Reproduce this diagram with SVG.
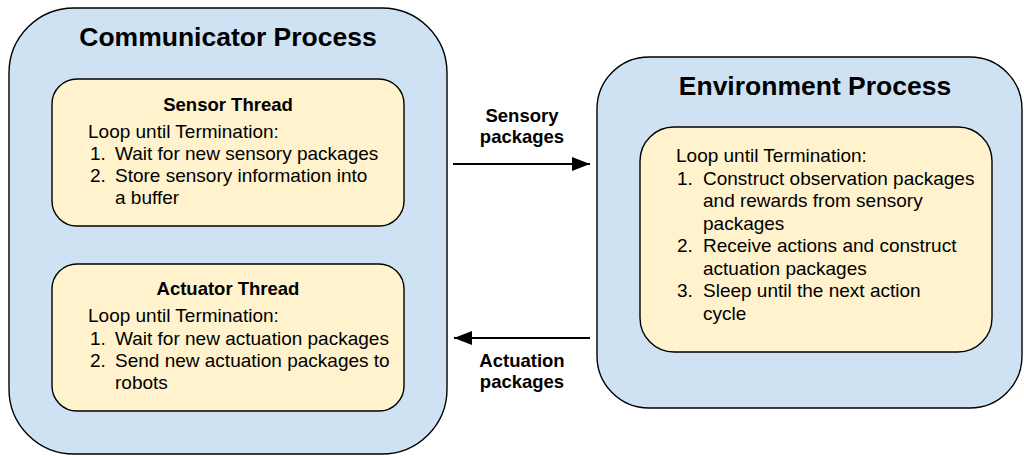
<svg xmlns="http://www.w3.org/2000/svg" width="1024" height="456" viewBox="0 0 1024 456">
  <style>
    .process { fill: #cfe2f3; stroke: #000; stroke-width: 1.4; }
    .thread { fill: #fff2cc; stroke: #000; stroke-width: 1.4; }
    .title { font-family: "Liberation Sans", Arial, sans-serif; font-weight: bold; font-size: 26.5px; fill: #000; text-anchor: middle; }
    .head { font-family: "Liberation Sans", Arial, sans-serif; font-weight: bold; font-size: 18.5px; fill: #000; text-anchor: middle; }
    .body { font-family: "Liberation Sans", Arial, sans-serif; font-size: 19px; fill: #000; }
    .link { stroke: #000; stroke-width: 2.2; fill: none; }
  </style>
  <defs>
    <marker id="arrow" viewBox="0 0 10 10" refX="10" refY="5" markerWidth="18" markerHeight="14" markerUnits="userSpaceOnUse" orient="auto" preserveAspectRatio="none">
      <path d="M0,0 L10,5 L0,10 Z" fill="#000"/>
    </marker>
  </defs>
  <rect width="1024" height="456" fill="#fff"/>

  <!-- Communicator process with its two threads -->
  <g id="communicator-process">
    <rect class="process" x="9" y="8" width="438" height="446" rx="65" ry="65"/>
    <text class="title" x="228" y="46">Communicator Process</text>
  </g>

  <g id="sensor-thread">
    <rect class="thread" x="52" y="79" width="352" height="147" rx="25" ry="25"/>
    <text class="head" x="228" y="111">Sensor Thread</text>
    <text class="body" x="88" y="137.5">Loop until Termination:</text>
    <text class="body" x="90" y="160">1.</text>
    <text class="body" x="115" y="160">Wait for new sensory packages</text>
    <text class="body" x="90" y="182">2.</text>
    <text class="body" x="115" y="182">Store sensory information into</text>
    <text class="body" x="115" y="204">a buffer</text>
  </g>

  <g id="actuator-thread">
    <rect class="thread" x="52" y="264" width="352" height="147" rx="25" ry="25"/>
    <text class="head" x="228" y="295">Actuator Thread</text>
    <text class="body" x="88" y="322">Loop until Termination:</text>
    <text class="body" x="90" y="344.5">1.</text>
    <text class="body" x="115" y="344.5">Wait for new actuation packages</text>
    <text class="body" x="90" y="367">2.</text>
    <text class="body" x="115" y="367">Send new actuation packages to</text>
    <text class="body" x="115" y="389">robots</text>
  </g>

  <!-- Environment process -->
  <g id="environment-process">
    <rect class="process" x="597" y="57" width="425" height="351" rx="52" ry="52"/>
    <text class="title" x="815" y="95">Environment Process</text>
  </g>

  <g id="environment-loop">
    <rect class="thread" x="640" y="127" width="352" height="225" rx="34" ry="34"/>
    <text class="body" x="676" y="162">Loop until Termination:</text>
    <text class="body" x="677" y="184.5">1.</text>
    <text class="body" x="703" y="184.5">Construct observation packages</text>
    <text class="body" x="703" y="207">and rewards from sensory</text>
    <text class="body" x="703" y="229.5">packages</text>
    <text class="body" x="677" y="252">2.</text>
    <text class="body" x="703" y="252">Receive actions and construct</text>
    <text class="body" x="703" y="274.5">actuation packages</text>
    <text class="body" x="677" y="297">3.</text>
    <text class="body" x="703" y="297">Sleep until the next action</text>
    <text class="body" x="703" y="319.5">cycle</text>
  </g>

  <!-- Package flow between the processes -->
  <g id="connectors">
    <g id="sensory-link">
      <line class="link" x1="453" y1="164" x2="590" y2="164" marker-end="url(#arrow)"/>
      <text class="head" x="522" y="122">Sensory</text>
      <text class="head" x="522" y="143">packages</text>
    </g>
    <g id="actuation-link">
      <line class="link" x1="590" y1="338" x2="454" y2="338" marker-end="url(#arrow)"/>
      <text class="head" x="522" y="367">Actuation</text>
      <text class="head" x="522" y="388">packages</text>
    </g>
  </g>
</svg>
